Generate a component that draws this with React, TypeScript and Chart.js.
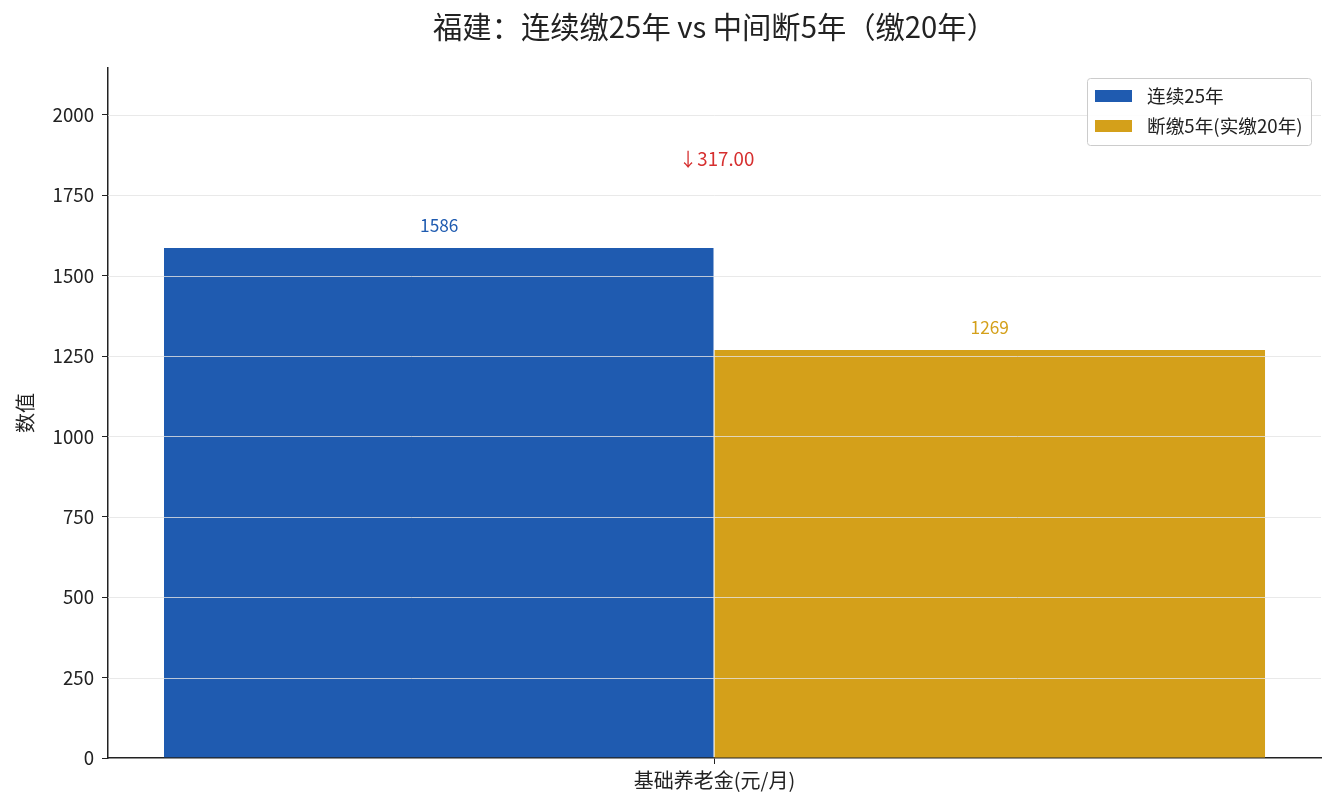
import React, { useEffect, useRef } from "react";
import { Chart, registerables } from "chart.js";

Chart.register(...registerables);

const title = "福建：连续缴25年 vs 中间断5年（缴20年）";
const categories = ["基础养老金(元/月)"];
const seriesNames = ["连续25年", "断缴5年(实缴20年)"];
const continuous = [1586];
const interrupted = [1269];
const diffLabel = "↓317.00";
const diffValue = 1863;
const yTicks = [0, 250, 500, 750, 1000, 1250, 1500, 1750, 2000];
const yMax = 2146;

const colors = ["#1f5bb0", "#d4a01a"];
const FONT = "'Noto Sans CJK SC', 'Noto Sans', sans-serif";

export default function App() {
  const ref = useRef<HTMLCanvasElement | null>(null);

  useEffect(() => {
    document.body.style.margin = "0";
    const canvas = ref.current!;
    const overlay = {
      id: "overlay",
      afterDatasetsDraw(chart: any) {
        const { ctx, chartArea, scales } = chart;
        const y = scales.y;
        ctx.save();
        ctx.strokeStyle = "rgba(228,228,228,0.8)";
        ctx.lineWidth = 1;
        yTicks.forEach((v) => {
          if (v === 0) return;
          const py = Math.round(y.getPixelForValue(v)) + 0.5;
          ctx.beginPath();
          ctx.moveTo(chartArea.left, py);
          ctx.lineTo(chartArea.right, py);
          ctx.stroke();
        });
        ctx.restore();
      },
      afterDraw(chart: any) {
        const { ctx, scales, chartArea } = chart;
        const y = scales.y;
        ctx.save();
        // title
        ctx.font = `29.3px ${FONT}`;
        ctx.fillStyle = "#222";
        ctx.textAlign = "center";
        ctx.textBaseline = "middle";
        ctx.fillText(title, (chartArea.left + chartArea.right) / 2, 27);

        ctx.font = `17.3px ${FONT}`;
        [continuous, interrupted].forEach((arr, di) => {
          const meta = chart.getDatasetMeta(di);
          meta.data.forEach((bar: any, i: number) => {
            ctx.fillStyle = colors[di];
            ctx.fillText(String(arr[i]), bar.x, bar.y - 23);
          });
        });
        const cx = chart.scales.x.getPixelForValue(0);
        ctx.font = `18.67px ${FONT}`;
        ctx.fillStyle = "#d62f2f";
        ctx.fillText(diffLabel, cx + 2, y.getPixelForValue(diffValue));

        // legend
        const lx = 1087, ly = 78, lw = 224, lh = 67;
        ctx.fillStyle = "rgba(255,255,255,0.9)";
        ctx.strokeStyle = "#cccccc";
        ctx.lineWidth = 1;
        ctx.beginPath();
        (ctx as any).roundRect(lx + 0.5, ly + 0.5, lw, lh, 3);
        ctx.fill();
        ctx.stroke();
        ctx.textAlign = "left";
        ctx.font = `18.67px ${FONT}`;
        seriesNames.forEach((n, i) => {
          const yy = 96 + i * 30;
          ctx.fillStyle = colors[i];
          ctx.fillRect(1095, yy - 6, 37, 12);
          ctx.fillStyle = "#222";
          ctx.fillText(n, 1147, yy);
        });
        ctx.restore();
      },
    };

    const chart = new Chart(canvas, {
      type: "bar",
      data: {
        labels: categories,
        datasets: [
          { label: seriesNames[0], data: continuous, backgroundColor: colors[0], borderColor: "rgba(255,255,255,0.9)", borderWidth: { right: 1 } as any },
          { label: seriesNames[1], data: interrupted, backgroundColor: colors[1], borderColor: "rgba(255,255,255,0.9)", borderWidth: 0 },
        ],
      },
      plugins: [overlay],
      options: {
        animation: false,
        responsive: false,
        maintainAspectRatio: false,
        datasets: { bar: { barPercentage: 1, categoryPercentage: 0.9077 } },
        layout: { padding: { left: 0, right: 14, top: 68, bottom: 0 } },
        plugins: {
          legend: { display: false },
          tooltip: { enabled: false },
          title: { display: false },
        },
        scales: {
          x: {
            grid: { display: true, drawOnChartArea: false, offset: false, tickLength: 6, color: "#222", tickColor: "#222" },
            border: { color: "#222", width: 1.5 },
            ticks: { color: "#222", font: { family: FONT, size: 20 }, padding: 4 },
            afterFit: (s: any) => { s.height = 52; },
          },
          y: {
            min: 0,
            max: yMax,
            afterBuildTicks: (s: any) => { s.ticks = yTicks.map((v) => ({ value: v })); },
            grid: { display: true, drawOnChartArea: false, tickLength: 6, tickColor: "#222" },
            border: { color: "#222", width: 1.5 },
            ticks: { color: "#222", font: { family: FONT, size: 18.67 }, padding: 8, callback: (v: any) => String(v) },
            title: { display: true, text: "数值", color: "#222", font: { family: FONT, size: 20 }, padding: { top: 13, bottom: 0 } },
            afterFit: (s: any) => { s.width = 108; },
          },
        },
      },
    });
    return () => chart.destroy();
  }, []);

  return (
    <div style={{ width: 1335, height: 810 }}>
      <canvas ref={ref} width={1335} height={810} style={{ display: "block" }} />
    </div>
  );
}
